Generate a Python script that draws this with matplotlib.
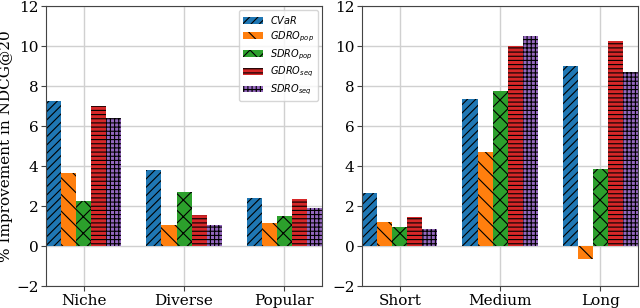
import matplotlib
matplotlib.use("Agg")
import matplotlib.pyplot as plt
import numpy as np

methods = ["$CVaR$", "$GDRO_{pop}$", "$SDRO_{pop}$", "$GDRO_{seq}$", "$SDRO_{seq}$"]
hatches = ["////", "\\\\", "xx", "----", "++++"]
colors = ["tab:blue", "tab:orange", "tab:green", "tab:red", "tab:purple"]

pop_groups = ["Niche", "Diverse", "Popular"]
pop_values = [
    [7.28, 3.80, 2.40],   # CVaR
    [3.68, 1.05, 1.15],   # GDRO_pop
    [2.28, 2.70, 1.50],   # SDRO_pop
    [7.03, 1.57, 2.35],   # GDRO_seq
    [6.42, 1.07, 1.90],   # SDRO_seq
]

len_groups = ["Short", "Medium", "Long"]
len_values = [
    [2.67, 7.38, 9.02],
    [1.20, 4.73, -0.62],
    [0.98, 7.78, 3.85],
    [1.47, 10.00, 10.25],
    [0.85, 10.52, 8.72],
]

plt.rcParams["font.family"] = "DejaVu Serif"
plt.rcParams["hatch.linewidth"] = 0.8

fig, axes = plt.subplots(1, 2, figsize=(6.4, 3.08), dpi=100)
fig.subplots_adjust(left=0.072, right=0.997, top=0.98, bottom=0.071, wspace=0.145)

width = 0.15


def draw(ax, groups, values):
    x = np.arange(len(groups))
    for i, vals in enumerate(values):
        ax.bar(x + (i - 2) * width, vals, width, color=colors[i], hatch=hatches[i],
               linewidth=0, label=methods[i], zorder=2)
    ax.set_xticks(x)
    ax.set_xticklabels(groups, fontsize=11)
    ax.set_xlim(-2.5 * width, len(groups) - 1 + 2.5 * width)
    ax.set_ylim(-2, 12)
    ax.set_yticks(range(-2, 13, 2))
    ax.tick_params(axis="both", labelsize=11, color="#444444", pad=2)
    ax.grid(True, color="#d0d0d0", linewidth=1)
    ax.set_axisbelow(True)
    for s in ax.spines.values():
        s.set_color("#444444")


draw(axes[0], pop_groups, pop_values)
draw(axes[1], len_groups, len_values)

axes[0].set_ylabel("% Improvement in NDCG@20", fontsize=11, labelpad=2)
axes[0].legend(loc="upper right", fontsize=7, handlelength=2.0,
               labelspacing=0.35, borderaxespad=0.4)

plt.savefig("out.png", dpi=100)
